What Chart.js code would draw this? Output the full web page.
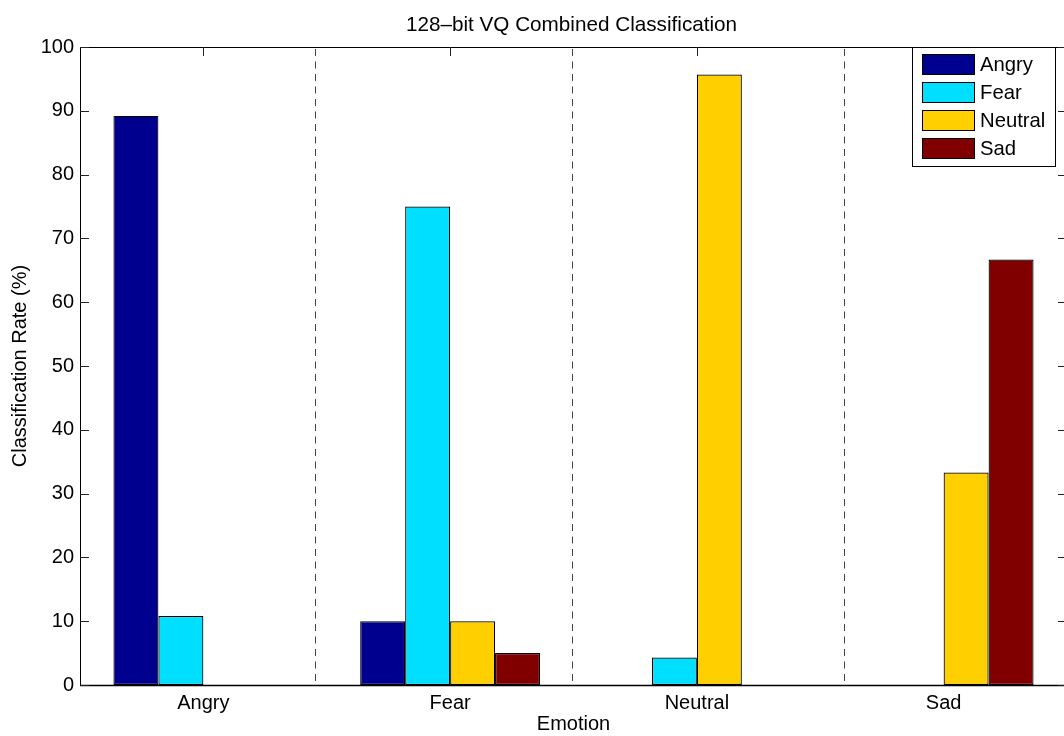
<!DOCTYPE html>
<html><head><meta charset="utf-8">
<script src="https://cdn.jsdelivr.net/npm/chart.js@4"></script>
<style>
html,body{margin:0;padding:0;overflow:hidden;background:#fff;width:1064px;height:736px}
#wrap{position:absolute;left:0;top:0;width:1080px;height:736px}
</style></head>
<body><div id="wrap"><canvas id="c" width="1080" height="736"></canvas></div>
<script>
// ---- data ----
const categories = ['Angry', 'Fear', 'Neutral', 'Sad'];
const seriesNames = ['Angry', 'Fear', 'Neutral', 'Sad'];
const angryRates = [89.2, 10.0, 0, 0];
const fearRates = [10.8, 75.0, 4.3, 0];
const neutralRates = [0, 10.0, 95.7, 33.3];
const sadRates = [0, 5.0, 0, 66.7];
const yTickValues = [0, 10, 20, 30, 40, 50, 60, 70, 80, 90, 100];
const separatorPositions = [0.4516, 1.4946, 2.595]; // in category-index units
const titleText = '128\u2013bit VQ Combined Classification';
const xTitle = 'Emotion';
const yTitle = 'Classification Rate (%)';

const seriesColors = ['#00008F', '#00DFFF', '#FFCF00', '#800000'];
const FONT = "'Liberation Sans', Arial, Helvetica, sans-serif";
const seriesValues = [angryRates, fearRates, neutralRates, sadRates];

const decorPlugin = {
  id: 'decor',
  afterDatasetsDraw(chart) {
    const ctx = chart.ctx;
    const a = chart.chartArea;
    const xs = chart.scales.x, ys = chart.scales.y;
    ctx.save();
    // dashed separators
    ctx.strokeStyle = '#444';
    ctx.lineWidth = 1;
    ctx.setLineDash([7, 5.5]);
    separatorPositions.forEach(p => {
      const x = Math.round(xs.getPixelForValue(p)) + 0.5;
      ctx.beginPath(); ctx.moveTo(x, a.top + 2); ctx.lineTo(x, a.bottom); ctx.stroke();
    });
    ctx.setLineDash([]);
    // frame
    ctx.strokeStyle = '#000';
    ctx.lineWidth = 1;
    ctx.strokeRect(Math.round(a.left) + 0.5, Math.round(a.top) + 0.5, Math.round(a.right - a.left), Math.round(a.bottom - a.top));
    ctx.lineWidth = 1.5;
    ctx.beginPath(); ctx.moveTo(a.left, a.bottom + 0.5); ctx.lineTo(a.right, a.bottom + 0.5); ctx.stroke();
    // inward ticks
    ctx.lineWidth = 1;
    ctx.strokeStyle = '#222';
    const TL = 9;
    yTickValues.forEach(v => {
      const y = Math.round(ys.getPixelForValue(v)) + 0.5;
      ctx.beginPath();
      ctx.moveTo(a.left, y); ctx.lineTo(a.left + TL, y);
      ctx.moveTo(a.right, y); ctx.lineTo(a.right - TL, y);
      ctx.stroke();
    });
    categories.forEach((c, i) => {
      const x = Math.round(xs.getPixelForValue(i)) + 0.5;
      ctx.beginPath();
      ctx.moveTo(x, a.top); ctx.lineTo(x, a.top + TL);
      ctx.stroke();
    });
    // title
    ctx.fillStyle = '#000';
    ctx.font = '20.7px ' + FONT;
    ctx.textAlign = 'center';
    ctx.textBaseline = 'middle';
    ctx.fillText(titleText, (a.left + a.right) / 2 - 2, 25);
    // legend
    ctx.font = '20.3px ' + FONT;
    const lx = 912, ly = 47, lw = 143, lh = 119;
    ctx.fillStyle = '#fff';
    ctx.fillRect(lx, ly, lw, lh);
    ctx.strokeStyle = '#000';
    ctx.strokeRect(lx + 0.5, ly + 0.5, lw, lh);
    chart.data.datasets.forEach((ds, i) => {
      const sy = 54 + i * 28;
      ctx.fillStyle = ds.backgroundColor;
      ctx.fillRect(922, sy, 53, 21);
      ctx.strokeStyle = '#000';
      ctx.strokeRect(922.5, sy + 0.5, 52, 20);
      ctx.fillStyle = '#000';
      ctx.textAlign = 'left';
      ctx.textBaseline = 'middle';
      ctx.fillText(ds.label, 980, sy + 11);
    });
    ctx.restore();
  }
};

new Chart(document.getElementById('c'), {
  type: 'bar',
  data: {
    labels: categories,
    datasets: seriesNames.map((n, i) => ({
      label: n,
      data: seriesValues[i],
      backgroundColor: seriesColors[i],
      borderColor: '#000',
      borderWidth: 1.2,
      borderSkipped: false,
      categoryPercentage: 0.729,
      barPercentage: 1.0
    }))
  },
  options: {
    responsive: false,
    devicePixelRatio: 1,
    animation: false,
    layout: { padding: { left: 0, top: 47, right: 13, bottom: 0 } },
    plugins: { legend: { display: false }, title: { display: false }, tooltip: { enabled: false } },
    scales: {
      x: {
        type: 'category',
        offset: true,
        grid: { display: false, drawTicks: false },
        border: { display: false },
        ticks: { color: '#000', font: { family: FONT, size: 20 }, padding: 6, maxRotation: 0 },
        title: { display: true, text: xTitle, color: '#000', font: { family: FONT, size: 20 }, padding: { top: 0, bottom: 0 } },
        afterFit(s) { s.height = 51; }
      },
      y: {
        min: 0, max: 100,
        grid: { display: false, drawTicks: false },
        border: { display: false },
        ticks: { stepSize: 10, color: '#000', font: { family: FONT, size: 20 }, padding: 6 },
        title: { display: true, text: yTitle, color: '#000', font: { family: FONT, size: 20 }, padding: { top: 8, bottom: 0 } },
        afterFit(s) { s.width = 80; }
      }
    }
  },
  plugins: [decorPlugin]
});
</script>
</body></html>
